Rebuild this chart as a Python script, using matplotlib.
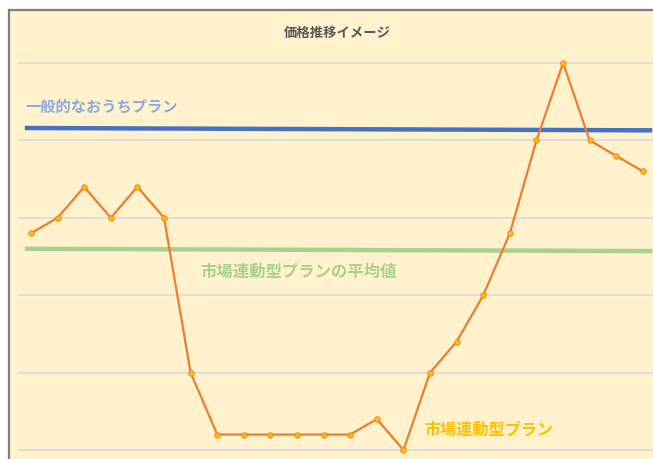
import matplotlib.pyplot as plt
from matplotlib.patches import Rectangle
from matplotlib.lines import Line2D

plt.rcParams['font.family'] = ['Noto Sans CJK JP', 'DejaVu Sans']

# 時間ごとの価格イメージ (0-23)
hours = list(range(24))
prices = [2.8, 3.0, 3.4, 3.0, 3.4, 3.0, 1.0, 0.2, 0.2, 0.2, 0.2, 0.2, 0.2, 0.4,
          0.0, 1.0, 1.4, 2.0, 2.8, 4.0, 5.0, 4.0, 3.8, 3.6]
grid_levels = [0, 1, 2, 3, 4, 5]
normal_plan = [4.16, 4.13]     # 一般的なおうちプラン (左端, 右端)
market_avg = [2.60, 2.57]      # 市場連動型プランの平均値 (左端, 右端)
line_x = [-0.15, 23.27]

W, H = 653, 459
fig = plt.figure(figsize=(W / 100, H / 100), dpi=100)
fig.patch.set_facecolor('white')

# 背景の枠
fig.patches.append(Rectangle((9 / W, -0.1), 1.2, 1.1 - 10 / H, transform=fig.transFigure,
                             facecolor='#FFF2CC', edgecolor='none', zorder=-10))
fig.lines.append(Line2D([8.5 / W, 8.5 / W], [-0.01, 1 - 9.5 / H], transform=fig.transFigure,
                        color='#7F7F7F', lw=1.6, zorder=-9))
fig.lines.append(Line2D([8.5 / W, 1.01], [1 - 9.5 / H, 1 - 9.5 / H], transform=fig.transFigure,
                        color='#7F7F7F', lw=1.6, zorder=-9))

ax = fig.add_axes([18 / W, 0, 635 / W, 419 / H])
ax.set_facecolor('none')
ax.set_xlim(-0.489, 23.38)
ax.set_ylim(-0.116, 5.297)
for s in ax.spines.values():
    s.set_visible(False)
ax.set_xticks([])
ax.set_yticks([])

for g in grid_levels:
    ax.axhline(g, color='#D9D9D9', lw=1.1, zorder=1)

ax.plot(line_x, normal_plan, color='#4472C4', lw=3.2, zorder=2)
ax.plot(line_x, market_avg, color='#A9D18E', lw=3.2, zorder=2)

ax.plot(hours, prices, color='#ED7D31', lw=1.6, marker='o', markersize=4,
        markerfacecolor='#FFC000', markeredgecolor='#ED7D31', markeredgewidth=0.6,
        zorder=3, clip_on=False)

ax.text(-0.226, 4.43, '一般的なおうちプラン', color='#8FAADC', fontsize=11,
        fontweight='bold', va='center', ha='left')
ax.text(6.35, 2.30, '市場連動型プランの平均値', color='#A9D18E', fontsize=11.8,
        fontweight='bold', va='center', ha='left')
ax.text(14.77, 0.26, '市場連動型プラン', color='#FFC000', fontsize=11.6,
        fontweight='bold', va='center', ha='left')

fig.text(337.5 / W, 1 - 33 / H, '価格推移イメージ', color='#595959', fontsize=9.6,
         fontweight='bold', ha='center', va='center')

fig.savefig('out.png', dpi=100)
